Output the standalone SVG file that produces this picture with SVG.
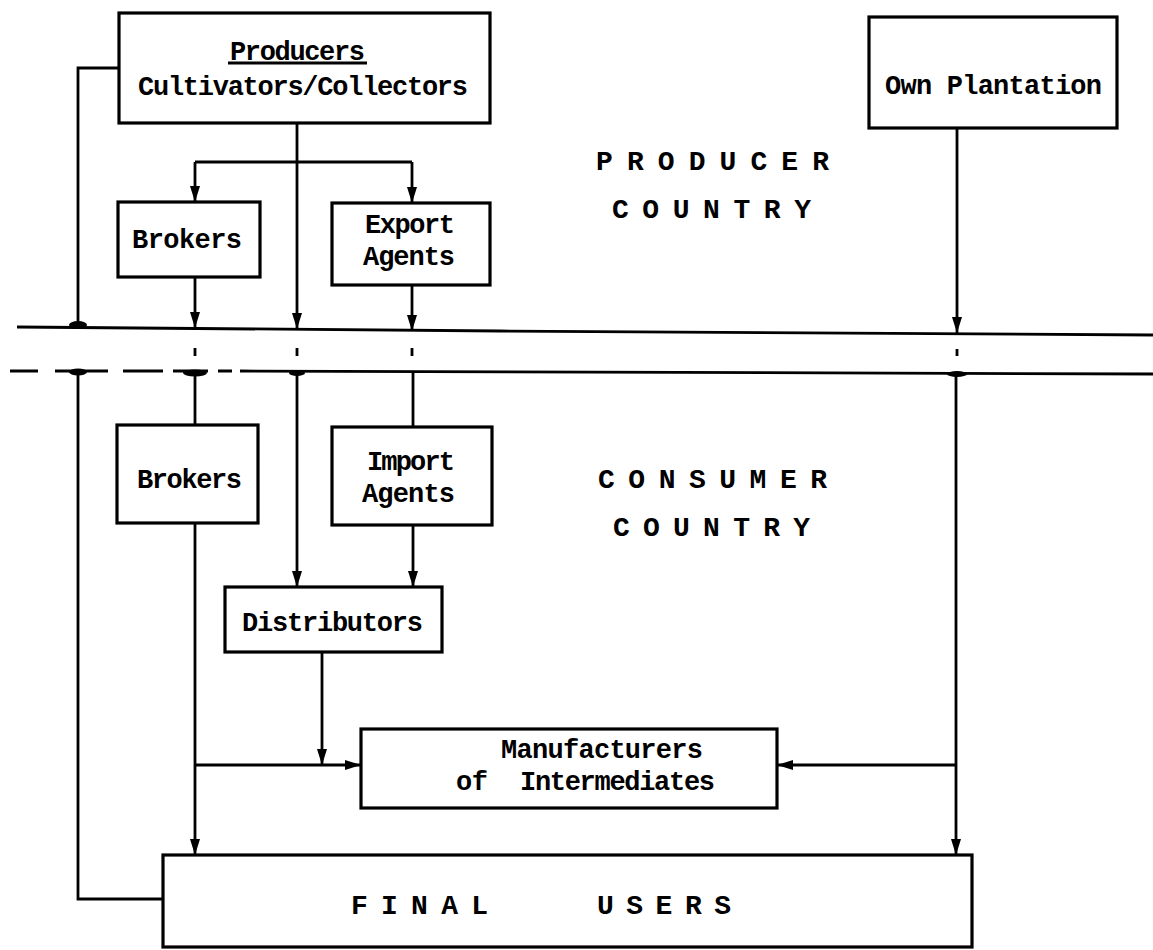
<svg xmlns="http://www.w3.org/2000/svg" width="1153" height="950" viewBox="0 0 1153 950">
<style>
.box{fill:#fff;stroke:#000;stroke-width:3.2}
.ln{fill:none;stroke:#000;stroke-width:2.8}
.arr{fill:none;stroke:#000;stroke-width:2.8;marker-end:url(#ah)}
.t{font-family:"Liberation Mono","DejaVu Sans Mono",monospace;font-weight:bold;font-size:27px;fill:#000}
.c{font-size:28px}
.blob{fill:#000}
</style>
<defs>
<marker id="ah" viewBox="0 0 16 10" refX="16" refY="5" markerWidth="16" markerHeight="10" markerUnits="userSpaceOnUse" orient="auto">
<path d="M0,0 L16,5 L0,10 z" fill="#000"/>
</marker>
</defs>
<rect width="1153" height="950" fill="#fff"/>
<g id="connectors">
<path class="ln" d="M119,68 H78 V325"/>
<path class="ln" d="M297,123 V162 M195,162 H412"/>
<path class="arr" d="M195,162 V202"/>
<path class="arr" d="M412,162 V203"/>
<path class="arr" d="M297,162 V329"/>
<path class="arr" d="M195,277 V328"/>
<path class="arr" d="M412,285 V331"/>
<path class="arr" d="M957,128 V333"/>
<path class="ln" d="M17,327 L500,331 L1153,335"/>
<path class="ln" d="M10,371 H38 M55,371 H108 M123,371 H163 M173,371 H208 M218,371 H232 M240,371 L1153,374"/>
<path class="ln" d="M195,348 V356 M297,348 V356 M412,348 V356 M957,349 V356"/>
<ellipse class="blob" cx="78" cy="325" rx="9" ry="4"/>
<ellipse class="blob" cx="78" cy="372" rx="9" ry="3.5"/>
<ellipse class="blob" cx="195" cy="373" rx="12" ry="3.5"/>
<ellipse class="blob" cx="297" cy="373" rx="8" ry="3"/>
<ellipse class="blob" cx="957" cy="374" rx="10" ry="3"/>
<path class="ln" d="M78,372 V899 H163"/>
<path class="ln" d="M195,373 V425"/>
<path class="arr" d="M297,373 V587"/>
<path class="ln" d="M413,373 V427"/>
<path class="arr" d="M413,525 V587"/>
<path class="arr" d="M195,523 V855"/>
<path class="arr" d="M322,652 V765"/>
<path class="arr" d="M195,765 H361"/>
<path class="arr" d="M956,374 V855"/>
<path class="arr" d="M956,765 H777"/>
</g>
<g id="producers">
<rect class="box" x="119" y="13" width="371" height="110"/>
<text class="t" x="230" y="60" textLength="135">Producers</text>
<line class="ln" x1="228" y1="63" x2="367" y2="63"/>
<text class="t" x="138" y="95" textLength="330">Cultivators/Collectors</text>
</g>
<g id="brokers-producer">
<rect class="box" x="118" y="202" width="142" height="75"/>
<text class="t" x="132" y="248" textLength="110">Brokers</text>
</g>
<g id="export-agents">
<rect class="box" x="332" y="203" width="158" height="82"/>
<text class="t" x="365" y="233" textLength="90">Export</text>
<text class="t" x="363" y="265" textLength="92">Agents</text>
</g>
<g id="own-plantation">
<rect class="box" x="869" y="17" width="248" height="111"/>
<text class="t" x="885" y="94" textLength="217">Own Plantation</text>
</g>
<g id="producer-country">
<text class="t c" x="596" y="170" textLength="233">P R O D U C E R</text>
<text class="t c" x="612" y="218" textLength="199">C O U N T R Y</text>
</g>
<g id="brokers-consumer">
<rect class="box" x="117" y="425" width="141" height="98"/>
<text class="t" x="137" y="488" textLength="105">Brokers</text>
</g>
<g id="import-agents">
<rect class="box" x="332" y="427" width="160" height="98"/>
<text class="t" x="367" y="470" textLength="88">Import</text>
<text class="t" x="362" y="502" textLength="93">Agents</text>
</g>
<g id="consumer-country">
<text class="t c" x="598" y="488" textLength="229">C O N S U M E R</text>
<text class="t c" x="613" y="536" textLength="197">C O U N T R Y</text>
</g>
<g id="distributors">
<rect class="box" x="225" y="587" width="217" height="65"/>
<text class="t" x="242" y="631" textLength="181">Distributors</text>
</g>
<g id="manufacturers">
<rect class="box" x="361" y="729" width="416" height="79"/>
<text class="t" x="501" y="758" textLength="202">Manufacturers</text>
<text class="t" x="456" y="790" textLength="32">of</text>
<text class="t" x="520" y="790" textLength="195">Intermediates</text>
</g>
<g id="final-users">
<rect class="box" x="163" y="855" width="809" height="92"/>
<text class="t c" x="351" y="914" textLength="137">F I N A L</text>
<text class="t c" x="597" y="914" textLength="134">U S E R S</text>
</g>
</svg>
